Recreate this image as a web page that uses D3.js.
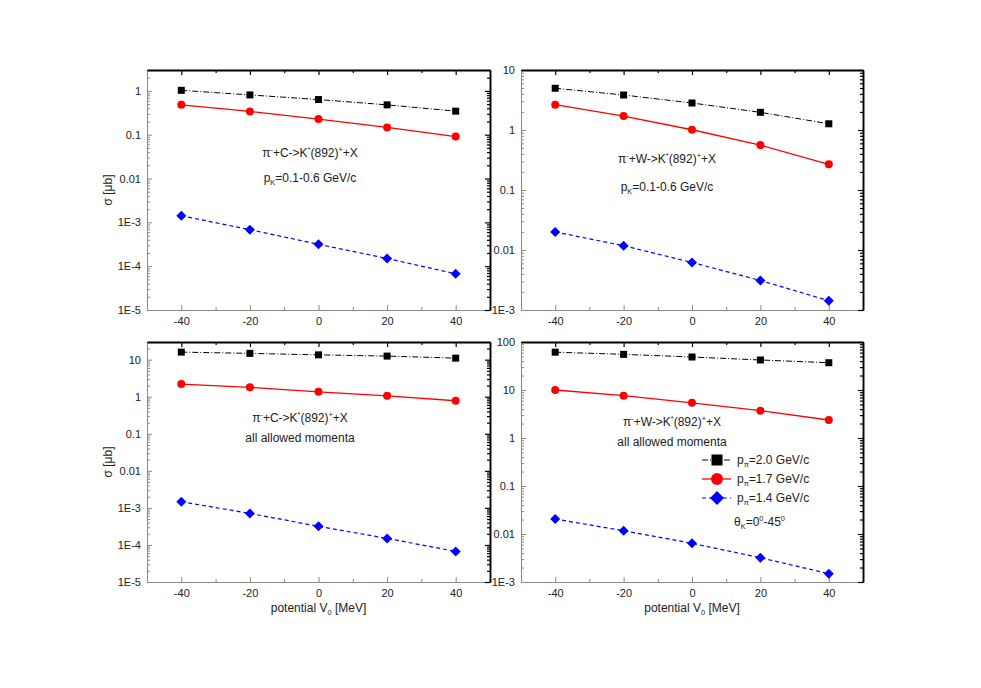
<!DOCTYPE html>
<html>
<head>
<meta charset="utf-8">
<script src="https://cdn.jsdelivr.net/npm/d3@7"></script>
<style>
  body { margin: 0; background: #fff; }
  text { font-family: "Liberation Sans", Arial, sans-serif; fill: #222; }
</style>
</head>
<body>
<div id="plot"></div>
<script>
let svgWidth = 981;
let svgHeight = 688;

// x values (potential V0 in MeV)
let potentials = [-40, -20, 0, 20, 40];

// pi- + C, p_K = 0.1-0.6 GeV/c
let cSlice20 = [1.03, 0.81, 0.635, 0.48, 0.345];
let cSlice17 = [0.48, 0.34, 0.227, 0.147, 0.091];
let cSlice14 = [1.42e-3, 6.8e-4, 3.16e-4, 1.5e-4, 6.7e-5];

// pi- + W, p_K = 0.1-0.6 GeV/c
let wSlice20 = [4.96, 3.83, 2.82, 1.97, 1.27];
let wSlice17 = [2.64, 1.71, 1.01, 0.56, 0.268];
let wSlice14 = [0.02, 0.0118, 0.0062, 0.0031, 0.00143];

// pi- + C, all allowed momenta
let cAll20 = [16.0, 14.8, 13.5, 12.5, 11.0];
let cAll17 = [2.2, 1.79, 1.36, 1.06, 0.78];
let cAll14 = [1.47e-3, 7.1e-4, 3.18e-4, 1.5e-4, 6.7e-5];

// pi- + W, all allowed momenta
let wAll20 = [61.4, 55.3, 48.7, 42.2, 37.0];
let wAll17 = [10.0, 7.6, 5.4, 3.7, 2.37];
let wAll14 = [0.0205, 0.0117, 0.0064, 0.0032, 0.00149];

let xTicks = [-40, -20, 0, 20, 40];
let xMinorTicks = [-30, -10, 10, 30];
let legendLabels = ['2.0', '1.7', '1.4'];

// series look
let seriesStyle = [
    { color: '#000', dash: '6,2,1,2', width: 1, marker: 'square' },
    { color: '#ff0000', dash: null, width: 1.3, marker: 'circle' },
    { color: '#0000ff', dash: '4,3', width: 1.2, marker: 'diamond' }
];

let panels = [
    { left: 147, top: 70, width: 343, height: 240, yDomain: [1e-5, 3],
      series: [cSlice20, cSlice17, cSlice14], target: 'C', second: 'pk',
      tx: 310, ty1: 157, ty2: 182, yTitle: true, xTitle: false },
    { left: 521, top: 70, width: 342, height: 240, yDomain: [1e-3, 10],
      series: [wSlice20, wSlice17, wSlice14], target: 'W', second: 'pk',
      tx: 667, ty1: 163, ty2: 191, yTitle: false, xTitle: false },
    { left: 147, top: 342, width: 343, height: 240, yDomain: [1e-5, 30],
      series: [cAll20, cAll17, cAll14], target: 'C', second: 'all',
      tx: 300, ty1: 422, ty2: 442, yTitle: true, xTitle: true },
    { left: 521, top: 342, width: 342, height: 240, yDomain: [1e-3, 100],
      series: [wAll20, wAll17, wAll14], target: 'W', second: 'all',
      tx: 672, ty1: 426, ty2: 446, yTitle: false, xTitle: true, legend: true }
];

let $svg = d3.select('#plot')
    .append('svg')
    .attr('width', svgWidth)
    .attr('height', svgHeight);

$svg.append('rect').attr('width', svgWidth).attr('height', svgHeight).attr('fill', '#fff');

// write text made of pieces, some raised or lowered
function richText(sel, parts, size) {
    let shift = 0;
    parts.forEach(p => {
        let want = p[1] === 'sup' ? -5 : p[1] === 'sub' ? 3 : 0;
        sel.append('tspan')
            .attr('dy', want - shift)
            .attr('font-size', want === 0 ? size : size * 0.62)
            .text(p[0]);
        shift = want;
    });
}

function logLabel(v) {
    if (v < 0.01) return '1E' + Math.round(Math.log10(v));
    return d3.format('~g')(v);
}

// plain hyphen for negative ticks, like the original
let xLabel = v => String(v);

function drawMarker(g, type, x, y, s, color) {
    if (type === 'square') {
        g.append('rect').attr('x', x - s / 2).attr('y', y - s / 2)
            .attr('width', s).attr('height', s).attr('fill', color);
    } else if (type === 'circle') {
        g.append('circle').attr('cx', x).attr('cy', y).attr('r', s / 2 + 0.5).attr('fill', color);
    } else {
        let r = s / 2 + 1.5;
        g.append('path')
            .attr('d', `M${x},${y - r}L${x + r},${y}L${x},${y + r}L${x - r},${y}Z`)
            .attr('fill', color);
    }
}

panels.forEach(p => {
    let chartGroup = $svg.append('g')
        .attr('transform', `translate(${p.left}, ${p.top})`);

    let xScale = d3.scaleLinear().domain([-50, 50]).range([0, p.width]);
    let yScale = d3.scaleLog().domain(p.yDomain).range([p.height, 0]);

    let lo = Math.floor(Math.log10(p.yDomain[0]));
    let hi = Math.ceil(Math.log10(p.yDomain[1]));
    let majors = d3.range(lo, hi + 1).map(e => Math.pow(10, e))
        .filter(v => v >= p.yDomain[0] * 0.999 && v <= p.yDomain[1] * 1.001);
    let minors = [];
    d3.range(lo, hi + 1).forEach(e => {
        for (let k = 2; k <= 9; k++) {
            let v = k * Math.pow(10, e);
            if (v > p.yDomain[0] && v < p.yDomain[1] * 1.001) minors.push(v);
        }
    });

    // left / bottom axes (grey, labelled)
    let leftAxis = d3.axisLeft(yScale).tickValues(majors).tickFormat(logLabel)
        .tickSizeInner(-5).tickSizeOuter(0).tickPadding(6);
    let leftMinor = d3.axisLeft(yScale).tickValues(minors).tickFormat('')
        .tickSizeInner(-3).tickSizeOuter(0);
    let bottomAxis = d3.axisBottom(xScale).tickValues(xTicks).tickFormat(xLabel)
        .tickSizeInner(-5).tickSizeOuter(0).tickPadding(7);
    let bottomMinor = d3.axisBottom(xScale).tickValues(xMinorTicks).tickFormat('')
        .tickSizeInner(-3).tickSizeOuter(0);

    // right / top axes (black, no labels)
    let rightAxis = d3.axisRight(yScale).tickValues(majors).tickFormat('')
        .tickSizeInner(-5).tickSizeOuter(0);
    let rightMinor = d3.axisRight(yScale).tickValues(minors).tickFormat('')
        .tickSizeInner(-3).tickSizeOuter(0);
    let topAxis = d3.axisTop(xScale).tickValues(xTicks).tickFormat('')
        .tickSizeInner(-5).tickSizeOuter(0);
    let topMinor = d3.axisTop(xScale).tickValues(xMinorTicks).tickFormat('')
        .tickSizeInner(-3).tickSizeOuter(0);

    let grey = [leftAxis, leftMinor].map(a => chartGroup.append('g').call(a));
    grey.push(chartGroup.append('g').attr('transform', `translate(0, ${p.height})`).call(bottomAxis));
    grey.push(chartGroup.append('g').attr('transform', `translate(0, ${p.height})`).call(bottomMinor));
    grey.forEach(g => {
        g.selectAll('path, line').attr('stroke', '#8a8a8a');
        g.selectAll('text').attr('font-size', 11).attr('fill', '#222')
            .attr('font-family', '"Liberation Sans", Arial, sans-serif');
    });

    let dark = [];
    dark.push(chartGroup.append('g').attr('transform', `translate(${p.width}, 0)`).call(rightAxis));
    dark.push(chartGroup.append('g').attr('transform', `translate(${p.width}, 0)`).call(rightMinor));
    dark.push(chartGroup.append('g').call(topAxis));
    dark.push(chartGroup.append('g').call(topMinor));
    dark.forEach(g => g.selectAll('path, line').attr('stroke', '#000').attr('stroke-width', 1.2));
    dark[0].select('path').attr('stroke-width', 1.8);
    dark[2].select('path').attr('stroke-width', 1.8);

    // series lines and markers
    p.series.forEach((vals, i) => {
        let st = seriesStyle[i];
        let pts = potentials.map((v, j) => [v, vals[j]]);
        let line = d3.line().x(d => xScale(d[0])).y(d => yScale(d[1]));
        chartGroup.append('path')
            .attr('d', line(pts))
            .attr('fill', 'none')
            .attr('stroke', st.color)
            .attr('stroke-width', st.width)
            .attr('stroke-dasharray', st.dash);
        let mg = chartGroup.append('g');
        pts.forEach(d => drawMarker(mg, st.marker, xScale(d[0]), yScale(d[1]), 7, st.color));
    });

    // reaction label
    let t1 = chartGroup.append('text')
        .attr('x', p.tx - p.left).attr('y', p.ty1 - p.top)
        .attr('text-anchor', 'middle');
    richText(t1, [['π'], ['-', 'sup'], ['+' + p.target + '->K'], ['*', 'sup'], ['(892)'], ['+', 'sup'], ['+X']], 12);

    let t2 = chartGroup.append('text')
        .attr('x', p.tx - p.left).attr('y', p.ty2 - p.top)
        .attr('text-anchor', 'middle');
    if (p.second === 'pk') {
        richText(t2, [['p'], ['K', 'sub'], ['=0.1-0.6 GeV/c']], 12);
    } else {
        richText(t2, [['all allowed momenta']], 12);
    }

    if (p.yTitle) {
        chartGroup.append('text')
            .attr('transform', `translate(${108 - p.left}, ${p.height / 2}) rotate(-90)`)
            .attr('text-anchor', 'middle')
            .attr('dy', '0.35em')
            .attr('font-size', 12)
            .text('σ [μb]');
    }
    if (p.xTitle) {
        let xt = chartGroup.append('text')
            .attr('x', p.width / 2)
            .attr('y', 270)
            .attr('text-anchor', 'middle');
        richText(xt, [['potential V'], ['0', 'sub'], [' [MeV]']], 12);
    }

    if (p.legend) {
        let lg = chartGroup.append('g');
        seriesStyle.forEach((st, i) => {
            let ly = 460 - p.top + i * 19;
            lg.append('line')
                .attr('x1', 702 - p.left).attr('x2', 731 - p.left)
                .attr('y1', ly).attr('y2', ly)
                .attr('stroke', st.color)
                .attr('stroke-width', st.width)
                .attr('stroke-dasharray', st.dash);
            drawMarker(lg, st.marker, 717 - p.left, ly, 11, st.color);
            let lt = lg.append('text').attr('x', 737 - p.left).attr('y', ly + 4);
            richText(lt, [['p'], ['π', 'sub'], ['=' + legendLabels[i] + ' GeV/c']], 12);
        });
        let th = lg.append('text').attr('x', 734 - p.left).attr('y', 526 - p.top);
        richText(th, [['θ'], ['K', 'sub'], ['=0'], ['0', 'sup'], ['-45'], ['0', 'sup']], 12);
    }
});
</script>
</body>
</html>
